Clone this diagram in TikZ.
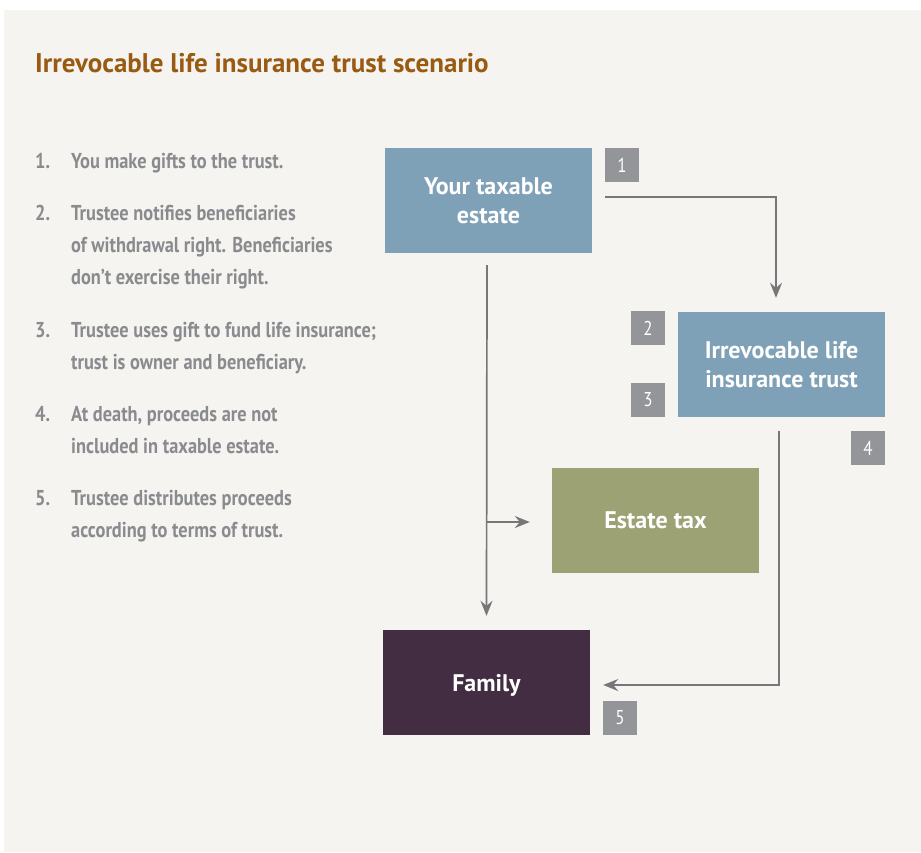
\documentclass[tikz,border=0pt]{standalone}
\usepackage{fontspec}
\setmainfont{PT Sans}
\newfontfamily\condfont[FakeStretch=0.855]{PT Sans}
\newfontfamily\badgefont[FakeStretch=0.85]{PT Sans}
\usetikzlibrary{arrows.meta}
\definecolor{panel}{HTML}{F5F4F0}
\definecolor{titlec}{HTML}{995A12}
\definecolor{listc}{HTML}{8A8B8F}
\definecolor{bluebox}{HTML}{7FA1B7}
\definecolor{greenbox}{HTML}{9CA273}
\definecolor{purplebox}{HTML}{432D42}
\definecolor{badgec}{HTML}{939598}
\definecolor{arrowc}{HTML}{77777A}
\tikzset{
  box/.style={rectangle, inner sep=0pt, text=white, align=center,
    minimum width=207pt, minimum height=105pt,
    font=\bfseries\fontsize{24}{29}\selectfont},
  badge/.style={rectangle, fill=badgec, minimum width=34pt, minimum height=34pt,
    inner sep=0pt, text=white, font=\badgefont\fontsize{20}{20}\selectfont},
  item/.style={anchor=base west, inner sep=0pt, align=left, text=listc,
    font=\condfont\bfseries\fontsize{21.5}{32}\selectfont},
  conn/.style={draw=arrowc, line width=1.7pt},
  tip/.style={-{Stealth[length=15pt,width=12pt,inset=5pt]}}
}
\begin{document}
\begin{tikzpicture}[x=1pt,y=-1pt]
\useasboundingbox (0,0) rectangle (921,852);
\fill[white] (0,0) rectangle (921,852);
\fill[panel] (4,10) rectangle (921,852);
% title
\node[anchor=base west, inner sep=0pt, text=titlec,
  font=\bfseries\fontsize{27}{27}\selectfont] (title) at (35,72)
  {Irrevocable life insurance trust scenario};
% list (base anchor = baseline of the last line)
\node[item] (n1) at (35,168) {1.};
\node[item] (t1) at (71,168) {You make gifts to the trust.};
\node[item] (n2) at (35,220) {2.};
\node[item] (t2) at (71,284) {Trustee notifies beneficiaries\\of withdrawal right. Beneficiaries\\don’t exercise their right.};
\node[item] (n3) at (35,337) {3.};
\node[item] (t3) at (71,369) {Trustee uses gift to fund life insurance;\\trust is owner and beneficiary.};
\node[item] (n4) at (35,421) {4.};
\node[item] (t4) at (71,453) {At death, proceeds are not\\included in taxable estate.};
\node[item] (n5) at (35,505) {5.};
\node[item] (t5) at (71,537) {Trustee distributes proceeds\\according to terms of trust.};
% boxes
\node[box, fill=bluebox] (estate) at (488.5,200.5) {Your taxable\\estate};
\node[box, fill=bluebox] (trust) at (781.5,364.5) {Irrevocable life\\insurance trust};
\node[box, fill=greenbox] (tax) at (655.5,520.5) {Estate tax};
\node[box, fill=purplebox, text height=17pt, text depth=0pt] (family) at (486.5,682.5) {Family};
% badges
\node[badge] (b1) at (622,165) {1};
\node[badge] (b2) at (648,328) {2};
\node[badge] (b3) at (648,400) {3};
\node[badge] (b4) at (868,448) {4};
\node[badge] (b5) at (620,718) {5};
% connectors (shifts are in canvas direction: positive y is up)
\coordinate (a1s) at ([yshift=-15pt]b1.south west);
\coordinate (a1t) at ([xshift=-5.5pt,yshift=14pt]trust.north);
\draw[conn, tip] (a1s) -| (a1t);
\coordinate (a2s) at ([xshift=-1.5pt,yshift=-12pt]estate.south);
\coordinate (a2t) at ([yshift=14pt]family.north);
\draw[conn, tip] (a2s) -- (a2t);
\coordinate (a3s) at ([yshift=-1.5pt]a2s |- tax.west);
\coordinate (a3t) at ([xshift=-22pt,yshift=-1.5pt]tax.west);
\draw[conn, tip] (a3s) -- (a3t);
\coordinate (a4s) at ([xshift=-2.5pt,yshift=-14pt]trust.south);
\coordinate (a4t) at ([xshift=13pt,yshift=-2.5pt]family.east);
\draw[conn, tip] (a4s) |- (a4t);
\end{tikzpicture}
\end{document}
